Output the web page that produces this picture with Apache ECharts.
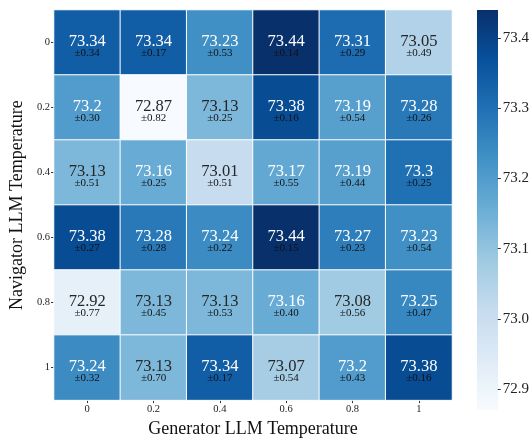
<!DOCTYPE html>
<html>
<head>
<meta charset="utf-8">
<script src="https://cdn.jsdelivr.net/npm/echarts@6/dist/echarts.min.js"></script>
<style>
  html, body { margin: 0; padding: 0; background: #fff; }
  #chart { width: 532px; height: 443px; }
</style>
</head>
<body>
<div id="chart"></div>
<script>
// Temperature settings on each axis
const generatorTemps = ['0', '0.2', '0.4', '0.6', '0.8', '1'];
const navigatorTemps = ['0', '0.2', '0.4', '0.6', '0.8', '1'];

// Mean score per (navigator row, generator column)
const meanRow0   = [73.34, 73.34, 73.23, 73.44, 73.31, 73.05];
const meanRow02  = [73.2, 72.87, 73.13, 73.38, 73.19, 73.28];
const meanRow04  = [73.13, 73.16, 73.01, 73.17, 73.19, 73.3];
const meanRow06  = [73.38, 73.28, 73.24, 73.44, 73.27, 73.23];
const meanRow08  = [72.92, 73.13, 73.13, 73.16, 73.08, 73.25];
const meanRow1   = [73.24, 73.13, 73.34, 73.07, 73.2, 73.38];

// Standard deviation per cell
const stdRow0  = [0.34, 0.17, 0.53, 0.14, 0.29, 0.49];
const stdRow02 = [0.30, 0.82, 0.25, 0.16, 0.54, 0.26];
const stdRow04 = [0.51, 0.25, 0.51, 0.55, 0.44, 0.25];
const stdRow06 = [0.27, 0.28, 0.22, 0.15, 0.23, 0.54];
const stdRow08 = [0.77, 0.45, 0.53, 0.40, 0.56, 0.47];
const stdRow1  = [0.32, 0.70, 0.17, 0.54, 0.43, 0.16];

// Colorbar tick values
const colorbarTicks = [72.9, 73.0, 73.1, 73.2, 73.3, 73.4];

const meanRows = [meanRow0, meanRow02, meanRow04, meanRow06, meanRow08, meanRow1];
const stdRows = [stdRow0, stdRow02, stdRow04, stdRow06, stdRow08, stdRow1];

const allMeans = meanRows.flat();
const vMin = Math.min(...allMeans);
const vMax = Math.max(...allMeans);

const blues = ['#f7fbff', '#deebf7', '#c6dbef', '#9ecae1', '#6baed6',
               '#4292c6', '#2171b5', '#08519c', '#08306b'];

const FONT = '"Liberation Serif", "DejaVu Serif", serif';

// Layout of the heatmap area and the colorbar
const heat = { left: 52, top: 10, width: 400, height: 400 };
const cbar = { left: 477, top: 10, width: 21, height: 400 };

const cells = [];
meanRows.forEach((row, r) => {
  row.forEach((v, c) => {
    cells.push([c, r, v, stdRows[r][c]]);
  });
});

const chart = echarts.init(document.getElementById('chart'), null, { renderer: 'canvas' });

chart.setOption({
  backgroundColor: '#fff',
  animation: false,
  textStyle: { fontFamily: FONT },
  grid: [
    { left: heat.left, top: heat.top, width: heat.width, height: heat.height },
    { left: cbar.left, top: cbar.top, width: cbar.width, height: cbar.height }
  ],
  xAxis: [
    {
      gridIndex: 0,
      type: 'category',
      data: generatorTemps,
      name: 'Generator LLM Temperature',
      nameLocation: 'middle',
      nameGap: 16,
      nameTextStyle: { fontFamily: FONT, fontSize: 18, color: '#111' },
      axisLine: { show: false },
      axisTick: { show: true, length: 3, alignWithLabel: true, lineStyle: { color: '#333' } },
      axisLabel: { fontFamily: FONT, fontSize: 10.5, color: '#222', margin: 4 },
      splitLine: { show: false }
    },
    {
      gridIndex: 1,
      type: 'value',
      show: false,
      min: 0,
      max: 1,
      axisLine: { onZero: false }
    }
  ],
  yAxis: [
    {
      gridIndex: 0,
      type: 'category',
      data: navigatorTemps,
      inverse: true,
      name: 'Navigator LLM Temperature',
      nameLocation: 'middle',
      nameGap: 21,
      nameRotate: 90,
      nameTextStyle: { fontFamily: FONT, fontSize: 18, color: '#111' },
      axisLine: { show: false },
      axisTick: { show: true, length: 3, alignWithLabel: true, lineStyle: { color: '#333' } },
      axisLabel: { fontFamily: FONT, fontSize: 10.5, color: '#222', margin: 4 },
      splitLine: { show: false }
    },
    {
      gridIndex: 1,
      type: 'value',
      position: 'right',
      min: vMin,
      max: vMax,
      axisLine: { show: false, onZero: false },
      axisTick: { show: true, length: 3, customValues: colorbarTicks, lineStyle: { color: '#333' } },
      axisLabel: {
        fontFamily: FONT, fontSize: 15, color: '#222', margin: 5,
        customValues: colorbarTicks,
        formatter: (v) => Number(v).toFixed(1)
      },
      splitLine: { show: false }
    }
  ],
  // Colour mapping for the cells (the bar itself is drawn as a plain gradient rectangle)
  visualMap: {
    type: 'continuous',
    show: false,
    min: vMin,
    max: vMax,
    seriesIndex: 0,
    dimension: 2,
    inRange: { color: blues }
  },
  graphic: [
    {
      type: 'rect',
      silent: true,
      z: -1,
      shape: { x: cbar.left, y: cbar.top, width: cbar.width, height: cbar.height },
      style: {
        fill: new echarts.graphic.LinearGradient(0, 1, 0, 0,
          blues.map((c, i) => ({ offset: i / (blues.length - 1), color: c })))
      }
    }
  ],
  series: [
    {
      type: 'heatmap',
      xAxisIndex: 0,
      yAxisIndex: 0,
      data: cells,
      itemStyle: { borderColor: '#fff', borderWidth: 1 },
      emphasis: { disabled: true },
      label: {
        show: true,
        offset: [0, 4],
        formatter: (p) => {
          const v = p.value[2];
          const s = p.value[3].toFixed(2);
          const key = v >= 73.15 ? 'w' : 'd';
          return '{' + key + '|' + String(v) + '}\n{s|±' + s + '}';
        },
        rich: {
          w: { fontFamily: FONT, fontSize: 16.5, color: '#ffffff', lineHeight: 14 },
          d: { fontFamily: FONT, fontSize: 16.5, color: '#262626', lineHeight: 14 },
          s: { fontFamily: FONT, fontSize: 11, color: '#111111', lineHeight: 10 }
        }
      }
    }
  ]
});
</script>
</body>
</html>
